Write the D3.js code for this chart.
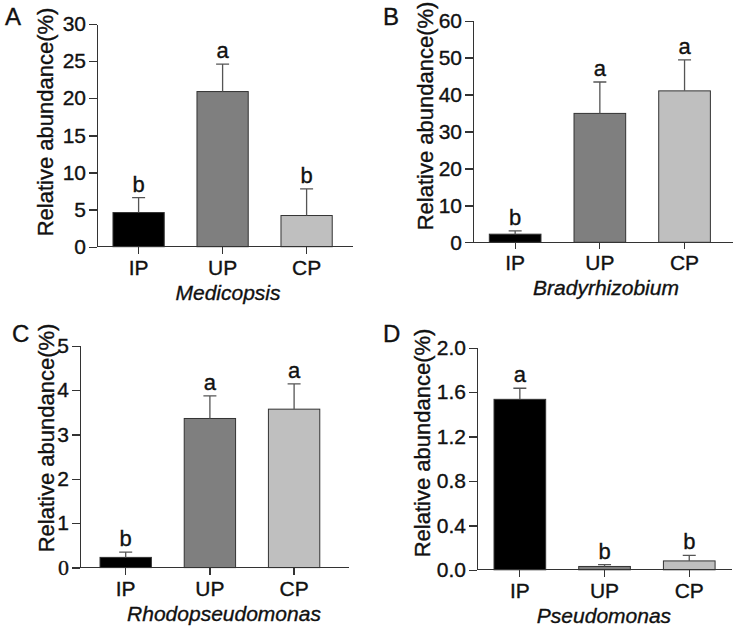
<!DOCTYPE html>
<head>
<meta charset="utf-8">
<title>Relative abundance</title>
<style>
body { margin: 0; background: #fff; }
svg text { font-family: Arial, "Liberation Sans", sans-serif; fill: #111; stroke: #111; stroke-width: 0.35px; }
.axis path, .axis line { stroke: #333; stroke-width: 1.3; shape-rendering: crispEdges; }
.axis text { font-size: 21px; }
.bar { stroke: #333; stroke-width: 1; }
.err { stroke: #555; stroke-width: 1.3; fill: none; }
</style>
</head>
<body>
<script src="https://d3js.org/d3.v7.min.js"></script>
<script>

// Data
var groups = ["IP", "UP", "CP"];
var barColors = ["#000000", "#7f7f7f", "#bfbfbf"];

var medicopsisMean = [4.6, 20.9, 4.2];
var medicopsisErr = [2.0, 3.7, 3.6];
var medicopsisLetters = ["b", "a", "b"];
var medicopsisTicks = [0, 5, 10, 15, 20, 25, 30];

var bradyMean = [2.2, 34.9, 41.0];
var bradyErr = [0.9, 8.5, 8.4];
var bradyLetters = ["b", "a", "a"];
var bradyTicks = [0, 10, 20, 30, 40, 50, 60];

var rhodoMean = [0.23, 3.36, 3.57];
var rhodoErr = [0.12, 0.51, 0.57];
var rhodoLetters = ["b", "a", "a"];
var rhodoTicks = [0, 1, 2, 3, 4, 5];

var pseudoMean = [1.535, 0.03, 0.08];
var pseudoErr = [0.10, 0.017, 0.05];
var pseudoLetters = ["a", "b", "b"];
var pseudoTicks = [0, 0.4, 0.8, 1.2, 1.6, 2.0];

var svg = d3.select("body").append("svg")
    .attr("width", 737)
    .attr("height", 630);

// one panel of the figure
function drawPanel(p) {
  var g = svg.append("g");

  var y = d3.scaleLinear()
      .domain([0, p.ticks[p.ticks.length - 1]])
      .range([p.y0, p.yTop]);
  var x = d3.scaleBand()
      .domain(groups)
      .range([p.bandX0, p.bandX0 + 3 * p.step])
      .paddingInner(0.39)
      .paddingOuter(0.195);

  var data = groups.map(function(k, i) {
    return {name: k, mean: p.mean[i], err: p.err[i], letter: p.letters[i], color: barColors[i]};
  });

  // bars
  g.selectAll(".bar")
      .data(data)
    .enter().append("rect")
      .attr("class", "bar")
      .attr("x", function(d) { return x(d.name); })
      .attr("width", x.bandwidth())
      .attr("y", function(d) { return y(d.mean); })
      .attr("height", function(d) { return p.y0 - y(d.mean); })
      .attr("fill", function(d) { return d.color; });

  // error bars (upper half only)
  g.selectAll(".err")
      .data(data)
    .enter().append("path")
      .attr("class", "err")
      .attr("d", function(d) {
        var cx = x(d.name) + x.bandwidth() / 2;
        return "M" + cx + "," + y(d.mean) + "V" + y(d.mean + d.err) +
               "M" + (cx - 6.5) + "," + y(d.mean + d.err) + "H" + (cx + 6.5);
      });

  // significance letters
  g.selectAll(".sig")
      .data(data)
    .enter().append("text")
      .attr("class", "sig")
      .attr("x", function(d) { return x(d.name) + x.bandwidth() / 2; })
      .attr("y", function(d) { return y(d.mean + d.err) - 6; })
      .attr("text-anchor", "middle")
      .style("font-size", "22px")
      .text(function(d) { return d.letter; });

  // y axis
  var yAxis = g.append("g")
      .attr("class", "axis")
      .attr("transform", "translate(" + p.axisX0 + ",0)")
      .call(d3.axisLeft(y).tickValues(p.ticks).tickFormat(p.fmt)
            .tickSize(8).tickSizeOuter(0).tickPadding(3));
  if (p.serifZero) {
    yAxis.selectAll(".tick text")
        .filter(function(d) { return d === 0; })
        .style("font-family", "'Liberation Serif', 'Times New Roman', serif")
        .style("font-size", "22px");
  }

  // x axis
  var xAxis = g.append("g")
      .attr("class", "axis")
      .attr("transform", "translate(0," + p.y0 + ")")
      .call(d3.axisBottom(x).tickSize(7).tickSizeOuter(0).tickPadding(6));
  xAxis.select(".domain").attr("d", "M" + p.axisX0 + ",0H" + p.axisX1);

  // axis titles
  g.append("text")
      .attr("transform", "translate(" + p.titleX + "," + p.titleY + ")rotate(-90)")
      .attr("text-anchor", "middle")
      .attr("dy", "0.35em")
      .style("font-size", "22px")
      .text("Relative abundance(%)");

  g.append("text")
      .attr("x", p.genusX)
      .attr("y", p.y0 + 53)
      .attr("text-anchor", "middle")
      .style("font-size", "21px")
      .style("font-style", "italic")
      .text(p.genus);

  // panel letter
  g.append("text")
      .attr("x", p.labelX)
      .attr("y", p.labelY)
      .style("font-size", "24px")
      .text(p.label);
}

drawPanel({label: "A", labelX: 5, labelY: 25, genus: "Medicopsis", genusX: 228,
  mean: medicopsisMean, err: medicopsisErr, letters: medicopsisLetters, ticks: medicopsisTicks,
  fmt: d3.format("d"), axisX0: 97, axisX1: 353, bandX0: 96.6, step: 84,
  yTop: 24, y0: 246.7, titleX: 45, titleY: 122});

drawPanel({label: "B", labelX: 383, labelY: 25, genus: "Bradyrhizobium", genusX: 606,
  mean: bradyMean, err: bradyErr, letters: bradyLetters, ticks: bradyTicks,
  fmt: d3.format("d"), axisX0: 473, axisX1: 733, bandX0: 472.8, step: 84.7,
  yTop: 20.7, y0: 242.3, titleX: 425, titleY: 116});

drawPanel({label: "C", labelX: 12, labelY: 342, genus: "Rhodopseudomonas", genusX: 224,
  mean: rhodoMean, err: rhodoErr, letters: rhodoLetters, ticks: rhodoTicks,
  fmt: d3.format("d"), axisX0: 80, axisX1: 349, bandX0: 83.6, step: 84.2,
  yTop: 345.7, y0: 567.6, titleX: 46, titleY: 438, serifZero: true});

drawPanel({label: "D", labelX: 383, labelY: 342, genus: "Pseudomonas", genusX: 604,
  mean: pseudoMean, err: pseudoErr, letters: pseudoLetters, ticks: pseudoTicks,
  fmt: d3.format(".1f"), axisX0: 477, axisX1: 732, bandX0: 477.5, step: 84.7,
  yTop: 347.7, y0: 569.8, titleX: 422, titleY: 443});

</script>
</body>
</html>
